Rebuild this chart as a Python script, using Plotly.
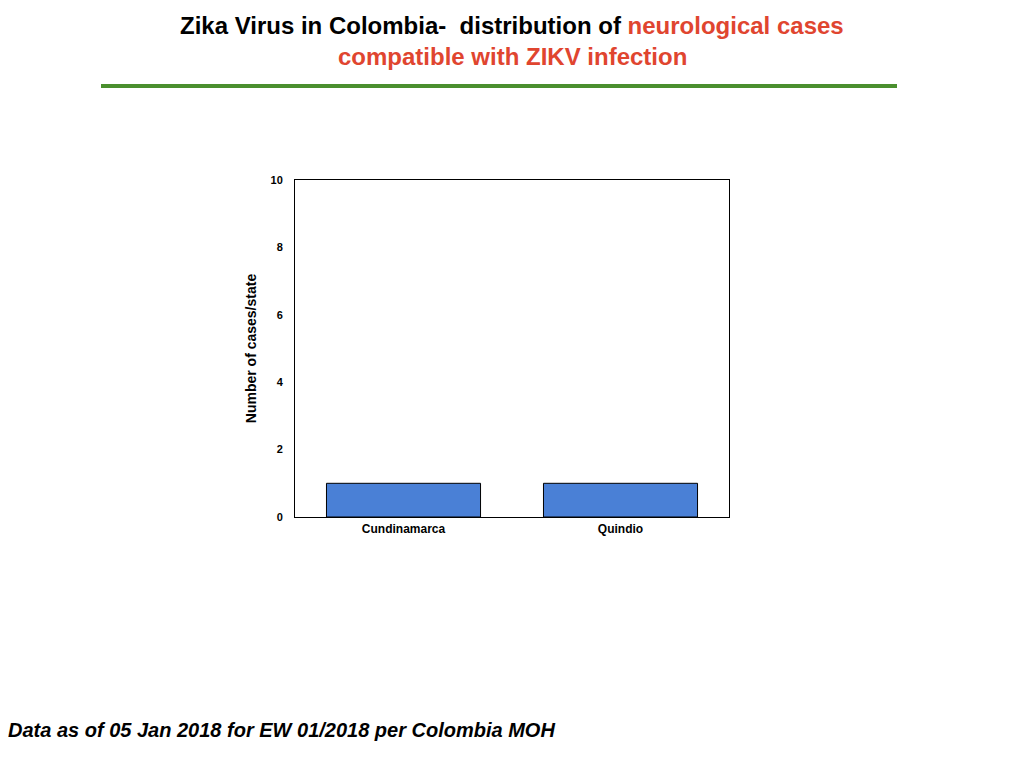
import plotly.graph_objects as go

departments = ["Cundinamarca", "Quindio"]
cases = [1, 1]
y_ticks = [0, 2, 4, 6, 8, 10]

W, H = 1024, 768
OFF = 8  # page body margin
L, R, T, B = 295 - OFF, 729 - OFF, 180 - OFF, 517 - OFF


def px(x):
    return (x - OFF - L) / (R - L)


def py(y):
    return (B - (y - OFF)) / (B - T)


fig = go.Figure()
fig.add_trace(go.Bar(x=departments, y=cases, width=0.71,
                     marker=dict(color="#4a80d6", line=dict(color="black", width=1))))

font = "Liberation Sans, Arial, sans-serif"
fig.update_layout(
    width=W, height=H,
    margin=dict(l=L, r=W - R, t=T, b=H - B),
    paper_bgcolor="white", plot_bgcolor="white",
    showlegend=False,
    font=dict(family=font, color="black"),
    xaxis=dict(showline=True, linecolor="black", linewidth=1, mirror=True,
               ticks="outside", ticklen=1, tickcolor="rgba(0,0,0,0)",
               tickvals=departments, ticktext=[f"<b>{d}</b>" for d in departments],
               tickfont=dict(size=12, family=font, color="black"), showgrid=False),
    yaxis=dict(range=[0, 10], tickvals=y_ticks, ticktext=[f"<b>{v}</b>" for v in y_ticks],
               showline=True, linecolor="black", linewidth=1,
               mirror=True, ticks="outside", ticklen=9, tickcolor="rgba(0,0,0,0)",
               showgrid=False, zeroline=False,
               tickfont=dict(size=11, family=font, color="black"),
               title=dict(text="<b>Number of cases/state</b>", font=dict(size=14), standoff=10)),
)

red = "#e0452f"
fig.add_annotation(xref="paper", yref="paper", x=px(512), y=py(25), showarrow=False,
                   text="<b>Zika Virus in Colombia-  distribution of "
                        f"<span style='color:{red}'>neurological cases</span></b>",
                   font=dict(size=24, family=font, color="black"), xanchor="center", yanchor="middle")
fig.add_annotation(xref="paper", yref="paper", x=px(512), y=py(57), showarrow=False,
                   text=f"<b>compatible with ZIKV infection</b>",
                   font=dict(size=24, family=font, color=red), xanchor="center", yanchor="middle")
fig.add_shape(type="line", xref="paper", yref="paper", x0=px(101), x1=px(897), y0=py(86), y1=py(86),
              line=dict(color="#4a8f2e", width=4))
fig.add_annotation(xref="paper", yref="paper", x=px(6), y=py(730), showarrow=False,
                   text="<b><i>Data as of 05 Jan 2018 for EW 01/2018 per Colombia MOH</i></b>",
                   font=dict(size=20, family=font, color="black"), xanchor="left", yanchor="middle")

fig.write_html("out.html")
